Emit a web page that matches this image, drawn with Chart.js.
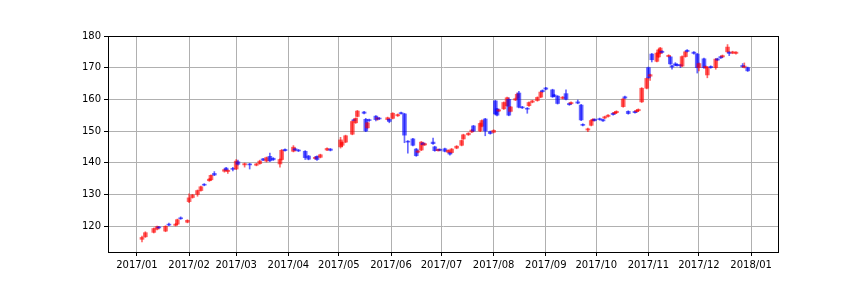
<!DOCTYPE html>
<html>
<head>
<meta charset="utf-8">
<script src="https://cdn.jsdelivr.net/npm/chart.js@4.4.1/dist/chart.umd.min.js"></script>
<style>
html,body{margin:0;padding:0;background:#fff;}
#wrap{width:864px;height:288px;}
</style>
</head>
<body>
<div id="wrap"><canvas id="c" width="864" height="288"></canvas></div>
<script>
// day offsets from 2017-01-01
const days = [3,5,10,12,13,17,19,23,24,26,30,
31,33,36,38,40,43,44,46,52,53,54,57,
59,60,64,67,71,73,75,77,79,81,85,86,
88,93,94,96,100,102,106,107,109,113,115,
121,122,124,128,129,130,131,135,136,137,138,142,143,144,149,150,
152,155,157,159,161,164,166,167,169,170,171,176,177,179,
180,183,185,186,187,190,193,194,197,199,200,204,205,207,210,
212,213,214,215,218,220,221,222,225,226,227,229,232,233,235,238,240,241,243,
247,248,250,253,255,257,258,262,264,265,268,270,271,272,
275,277,278,280,283,284,285,289,290,292,296,297,298,300,303,
304,305,306,309,310,311,312,316,317,318,320,321,323,324,326,327,
331,333,334,337,338,339,341,344,345,347,348,351,352,354,356,360,361,363];
const opens = [115.8,116.6,118.0,119.0,119.7,118.4,120.6,120.2,120.6,122.6,121.2,
127.7,129.0,130.0,131.2,133.2,134.3,134.6,136.6,137.3,138.3,137.2,138.2,
138.0,140.3,139.3,139.6,139.2,139.7,141.2,140.5,142.0,141.4,139.6,141.0,
144.2,143.6,144.4,144.0,143.6,142.1,141.3,142.0,141.7,144.0,144.3,
145.0,145.5,146.5,149.0,153.6,152.6,154.6,156.0,153.7,151.0,153.6,154.7,153.8,154.1,153.6,153.7,
154.0,154.8,155.8,155.4,146.8,147.5,144.3,143.3,144.0,146.2,145.6,146.5,145.0,143.8,
144.2,144.4,143.3,143.2,143.2,144.6,145.5,147.5,148.8,149.7,151.6,150.0,151.5,153.8,149.8,
149.6,159.5,157.0,156.3,157.0,158.0,160.0,156.2,159.8,160.4,162.0,157.6,157.2,158.0,159.1,159.6,160.7,162.8,163.6,
163.0,161.4,161.0,160.3,161.8,158.7,158.6,159.2,158.2,152.1,150.3,151.8,153.3,153.7,
153.9,153.6,154.1,154.6,155.6,155.5,155.8,157.7,160.8,156.2,156.2,156.1,156.4,159.2,163.5,
170.0,167.3,174.3,172.0,173.4,174.5,175.2,173.5,173.4,170.6,171.2,171.0,170.9,170.5,173.5,175.5,
174.9,174.3,170.0,172.8,170.0,167.7,170.4,170.0,172.8,173.5,173.4,175.0,174.9,174.6,174.5,170.7,170.1,170.0];
const closes = [116.4,117.9,119.2,119.8,119.4,119.9,120.3,120.6,122.0,122.3,121.8,
128.9,129.8,131.2,132.4,132.9,134.8,136.0,136.1,137.8,137.7,137.6,137.9,
140.5,139.5,139.7,139.3,139.6,140.5,140.8,141.6,140.6,140.9,141.0,143.9,
143.8,144.9,144.0,143.7,141.6,141.1,141.7,141.0,142.5,144.5,143.9,
147.2,146.4,148.5,153.0,153.3,154.0,156.3,155.6,150.0,152.6,153.3,153.6,154.1,153.8,154.2,153.0,
155.6,155.2,155.5,148.7,146.5,145.5,142.2,143.7,146.5,145.7,146.0,146.0,143.8,144.2,
143.9,143.6,143.9,142.7,144.3,145.2,147.0,148.8,149.3,150.3,150.0,152.4,153.3,150.0,149.2,
150.2,155.4,155.0,156.7,159.0,160.5,155.0,157.6,160.2,161.6,157.5,157.3,156.9,159.0,159.5,160.6,162.3,162.4,163.2,
160.8,161.0,158.7,160.7,160.0,158.3,159.0,158.8,153.5,151.8,150.7,153.3,153.7,153.3,
153.6,153.2,154.5,155.0,155.2,155.9,156.2,160.1,160.4,155.5,155.8,156.5,156.8,163.5,166.6,
166.8,167.8,172.5,174.6,175.6,176.2,174.8,173.9,171.2,170.2,170.8,170.7,170.6,173.5,175.0,175.1,
174.5,170.0,171.3,170.0,170.4,170.0,170.0,172.7,172.4,173.1,173.8,176.5,174.5,175.0,174.9,170.3,170.5,169.0];
const highs = [116.8,118.2,119.4,120.0,119.9,120.1,120.9,120.8,122.2,122.9,122.0,
130.2,130.0,131.4,132.6,133.4,135.0,136.2,137.2,138.0,138.5,137.8,138.5,
141.0,140.8,139.9,139.8,139.8,140.8,141.4,141.8,143.0,141.6,141.2,144.2,
144.4,145.4,144.6,144.2,143.8,142.3,141.9,142.2,142.7,144.7,144.5,
148.0,146.6,148.7,153.3,153.8,154.2,156.5,156.2,154.0,152.8,153.8,154.9,154.3,154.3,154.4,153.9,
155.8,155.4,156.0,155.6,147.0,147.7,144.5,143.9,146.7,146.4,146.2,147.8,145.2,144.4,
144.4,144.6,144.1,143.4,144.5,145.4,147.2,149.0,149.5,150.5,151.8,152.6,153.5,154.0,150.0,
150.4,159.7,157.2,156.9,159.2,160.7,160.5,157.8,160.4,162.0,162.5,157.8,157.4,159.2,159.7,160.8,162.5,163.0,163.8,
163.2,161.6,161.2,160.9,163.0,158.9,159.2,159.8,158.4,152.3,150.9,153.5,153.9,153.9,
154.1,153.8,154.7,155.2,155.8,156.1,156.4,160.3,161.0,156.4,156.4,156.7,157.0,163.7,166.8,
170.2,168.0,174.5,174.8,175.8,176.4,175.4,174.1,173.6,170.8,171.6,171.2,171.1,173.7,175.2,175.7,
175.1,174.5,171.5,173.0,170.6,170.2,170.6,172.9,173.0,173.7,174.0,177.3,175.1,175.2,175.1,171.3,171.5,170.2];
const lows = [115.0,116.4,117.8,118.8,119.2,118.2,120.1,120.0,120.4,122.1,121.0,
127.4,128.8,129.4,131.0,132.7,134.1,134.4,135.9,137.0,137.5,136.6,137.4,
137.8,139.2,138.6,138.0,139.0,139.5,140.6,140.2,140.3,140.7,138.6,140.8,
143.6,143.4,143.8,143.5,141.0,140.9,141.1,140.7,141.5,143.8,143.7,
144.6,145.0,146.3,148.8,153.1,152.4,154.4,155.4,149.8,150.8,153.0,153.2,153.4,153.6,153.4,152.6,
153.8,154.6,155.3,146.3,143.0,145.3,142.0,143.1,143.8,145.5,145.4,145.8,143.6,143.6,
143.7,143.4,143.1,142.4,143.0,144.4,145.3,147.3,148.6,149.5,149.8,149.8,151.3,148.5,149.0,
149.4,155.2,154.8,156.1,156.8,157.8,154.8,156.0,159.6,160.2,157.3,157.1,155.6,157.8,158.9,159.4,160.5,162.2,163.0,
160.6,160.8,158.5,160.1,159.8,158.1,158.4,158.6,153.3,151.6,149.8,151.6,153.1,153.1,
153.4,153.0,153.9,154.4,155.0,155.3,155.6,157.5,160.2,155.3,155.6,155.9,156.2,159.0,163.3,
166.6,166.0,171.8,171.8,173.2,174.3,174.6,173.3,171.0,169.5,170.6,170.5,170.0,170.3,173.3,174.9,
174.3,168.3,169.0,169.8,169.8,166.8,169.8,169.5,172.2,172.9,173.2,174.8,173.8,174.4,174.3,170.1,169.9,168.8];

const monthTicks = [0,31,59,90,120,151,181,212,243,273,304,334,365];
const monthLabels = ['2017/01','2017/02','2017/03','2017/04','2017/05','2017/06','2017/07','2017/08','2017/09','2017/10','2017/11','2017/12','2018/01'];
const yTicks = [120,130,140,150,160,170,180];

const UP = 'rgba(255,0,0,0.6)';
const DOWN = 'rgba(0,0,255,0.6)';
const colors = days.map((d,i)=> closes[i] >= opens[i] ? UP : DOWN);

const bodies = days.map((d,i)=>({x:d, y:[opens[i], closes[i]]}));
const wicks = days.map((d,i)=>({x:d, y:[lows[i], highs[i]]}));

const frame = {
  id:'frame',
  afterDraw(chart){
    const a = chart.chartArea, ctx = chart.ctx;
    ctx.save();
    ctx.strokeStyle = '#000';
    ctx.lineWidth = 1;
    ctx.strokeRect(Math.round(a.left)+0.5, Math.round(a.top)+0.5, Math.round(a.right-a.left), Math.round(a.bottom-a.top));
    ctx.restore();
  }
};

const font = {family:'DejaVu Sans', size:10};

new Chart(document.getElementById('c'), {
  type:'bar',
  data:{
    datasets:[
      {data:bodies, backgroundColor:colors, barThickness:4, grouped:false, order:1, borderWidth:0},
      {data:wicks, backgroundColor:colors, barThickness:1, grouped:false, order:2, borderWidth:0}
    ]
  },
  options:{
    responsive:false,
    animation:false,
    events:[],
    layout:{padding:{top:36, right:86, left:0, bottom:0}},
    plugins:{legend:{display:false}, tooltip:{enabled:false}},
    scales:{
      x:{
        type:'linear', offset:false,
        min:-17.2, max:381,
        afterBuildTicks(s){ s.ticks = monthTicks.map(v=>({value:v})); },
        afterFit(s){ s.height = 36; },
        ticks:{callback:(v)=>{const k=monthTicks.indexOf(v); return k>=0?monthLabels[k]:'';}, color:'#000', font, padding:3, maxRotation:0, autoSkip:false},
        grid:{color:'#b0b0b0', lineWidth:1, tickColor:'#000', tickLength:4, offset:false},
        border:{display:true, color:'#000'}
      },
      y:{
        type:'linear',
        min:111.8, max:180,
        afterBuildTicks(s){ s.ticks = yTicks.map(v=>({value:v})); },
        afterFit(s){ s.width = 108; },
        ticks:{color:'#000', font, padding:3},
        grid:{color:'#b0b0b0', lineWidth:1, tickColor:'#000', tickLength:4, offset:false},
        border:{display:true, color:'#000'}
      }
    }
  },
  plugins:[frame]
});
</script>
</body>
</html>
